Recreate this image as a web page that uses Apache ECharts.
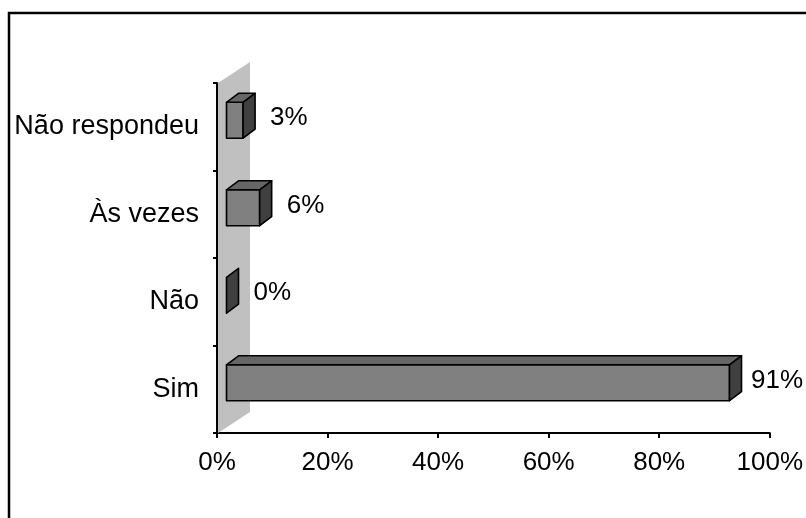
<!DOCTYPE html>
<html>
<head>
<meta charset="utf-8">
<style>
  html, body { margin: 0; padding: 0; background: #fff; }
  #chart { width: 806px; height: 518px; }
</style>
<script src="https://cdn.jsdelivr.net/npm/echarts@6/dist/echarts.min.js"></script>
</head>
<body>
<div id="chart"></div>
<script>
// Categories listed bottom to top, as they appear on the vertical axis
const categories = ['Sim', 'Não', 'Às vezes', 'Não respondeu'];
const percentValues = [91, 0, 6, 3];
const xTicks = [0, 20, 40, 60, 80, 100];

const FONT = '"Liberation Sans", Arial, sans-serif';
const FONT_SIZE = 26;
const CAT_FONT_SIZE = 27;

// pseudo-3D look: depth of bars and of the back wall
const BAR_DX = 12, BAR_DY = -9;       // bar depth projection
const BAR_SHIFT_X = 9.5, BAR_SHIFT_Y = -6.5; // bars sit mid-way in the wall depth
const WALL_DX = 32, WALL_DY = -21;

const measureCtx = document.createElement('canvas').getContext('2d');
measureCtx.font = FONT_SIZE + 'px ' + FONT;

const chart = echarts.init(document.getElementById('chart'), null, { renderer: 'canvas' });

function renderWall(params, api) {
  const cs = params.coordSys;
  const x0 = cs.x + 1, yB = cs.y + cs.height, yT = cs.y;
  return {
    type: 'polygon',
    shape: { points: [[x0, yB], [x0 + WALL_DX, yB + WALL_DY], [x0 + WALL_DX, yT + WALL_DY], [x0, yT]] },
    style: { fill: '#c0c0c0', stroke: null },
    z2: 0
  };
}

function renderBar(params, api) {
  const cat = api.value(0);
  const val = api.value(1);
  const base = api.coord([0, cat]);
  const end = api.coord([val, cat]);
  const band = api.size([0, 1])[1];
  const h = band * 0.41;
  const x0 = base[0] + BAR_SHIFT_X;
  const x1 = end[0] + BAR_SHIFT_X;
  const yc = base[1] + BAR_SHIFT_Y;
  const yT = yc - h / 2, yB = yc + h / 2;
  const edge = { stroke: '#000', lineWidth: 1.6, lineJoin: 'round' };
  const children = [];
  if (x1 - x0 > 0.5) {
    children.push({
      type: 'polygon',
      shape: { points: [[x0, yT], [x1, yT], [x1, yB], [x0, yB]] },
      style: Object.assign({ fill: '#808080' }, edge)
    });
    children.push({
      type: 'polygon',
      shape: { points: [[x0, yT], [x0 + BAR_DX, yT + BAR_DY], [x1 + BAR_DX, yT + BAR_DY], [x1, yT]] },
      style: Object.assign({ fill: '#666666' }, edge)
    });
  }
  children.push({
    type: 'polygon',
    shape: { points: [[x1, yT], [x1 + BAR_DX, yT + BAR_DY], [x1 + BAR_DX, yB + BAR_DY], [x1, yB]] },
    style: Object.assign({ fill: '#404040' }, edge)
  });
  const label = val + '%';
  const w = measureCtx.measureText(label).width;
  let lx = x1 + BAR_DX + 15;
  lx = Math.min(lx, 806 - w - 3);
  children.push({
    type: 'text',
    x: lx,
    y: yc - 2,
    style: {
      text: label,
      font: FONT_SIZE + 'px ' + FONT,
      fill: '#000',
      align: 'left',
      verticalAlign: 'middle'
    }
  });
  return { type: 'group', children: children };
}

const option = {
  animation: false,
  backgroundColor: '#ffffff',
  grid: { left: 217, right: 33, top: 83, bottom: 85, containLabel: false },
  xAxis: {
    type: 'value',
    min: xTicks[0],
    max: xTicks[xTicks.length - 1],
    interval: xTicks[1] - xTicks[0],
    axisLine: { show: true, lineStyle: { color: '#000', width: 2 } },
    axisTick: { show: true, length: 5, lineStyle: { color: '#000', width: 2 } },
    splitLine: { show: false },
    axisLabel: {
      formatter: '{value}%',
      color: '#000',
      fontFamily: FONT,
      fontSize: FONT_SIZE,
      margin: 17
    }
  },
  yAxis: {
    type: 'category',
    data: categories,
    axisLine: { show: true, lineStyle: { color: '#000', width: 2 } },
    axisTick: { show: true, length: 4, lineStyle: { color: '#000', width: 2 } },
    splitLine: { show: false },
    axisLabel: {
      color: '#000',
      fontFamily: FONT,
      fontSize: CAT_FONT_SIZE,
      margin: 18
    }
  },
  graphic: [{
    type: 'rect',
    shape: { x: 9, y: 13, width: 900, height: 600 },
    style: { fill: null, stroke: '#000', lineWidth: 2.5 },
    silent: true
  }],
  series: [
    {
      type: 'custom',
      name: 'wall',
      coordinateSystem: 'cartesian2d',
      renderItem: renderWall,
      data: [[0, 0]],
      z: 1,
      silent: true
    },
    {
      type: 'custom',
      name: 'Respostas',
      coordinateSystem: 'cartesian2d',
      encode: { x: 1, y: 0 },
      renderItem: renderBar,
      data: categories.map((c, i) => [i, percentValues[i]]),
      z: 3,
      silent: true
    }
  ]
};

chart.setOption(option);
</script>
</body>
</html>
